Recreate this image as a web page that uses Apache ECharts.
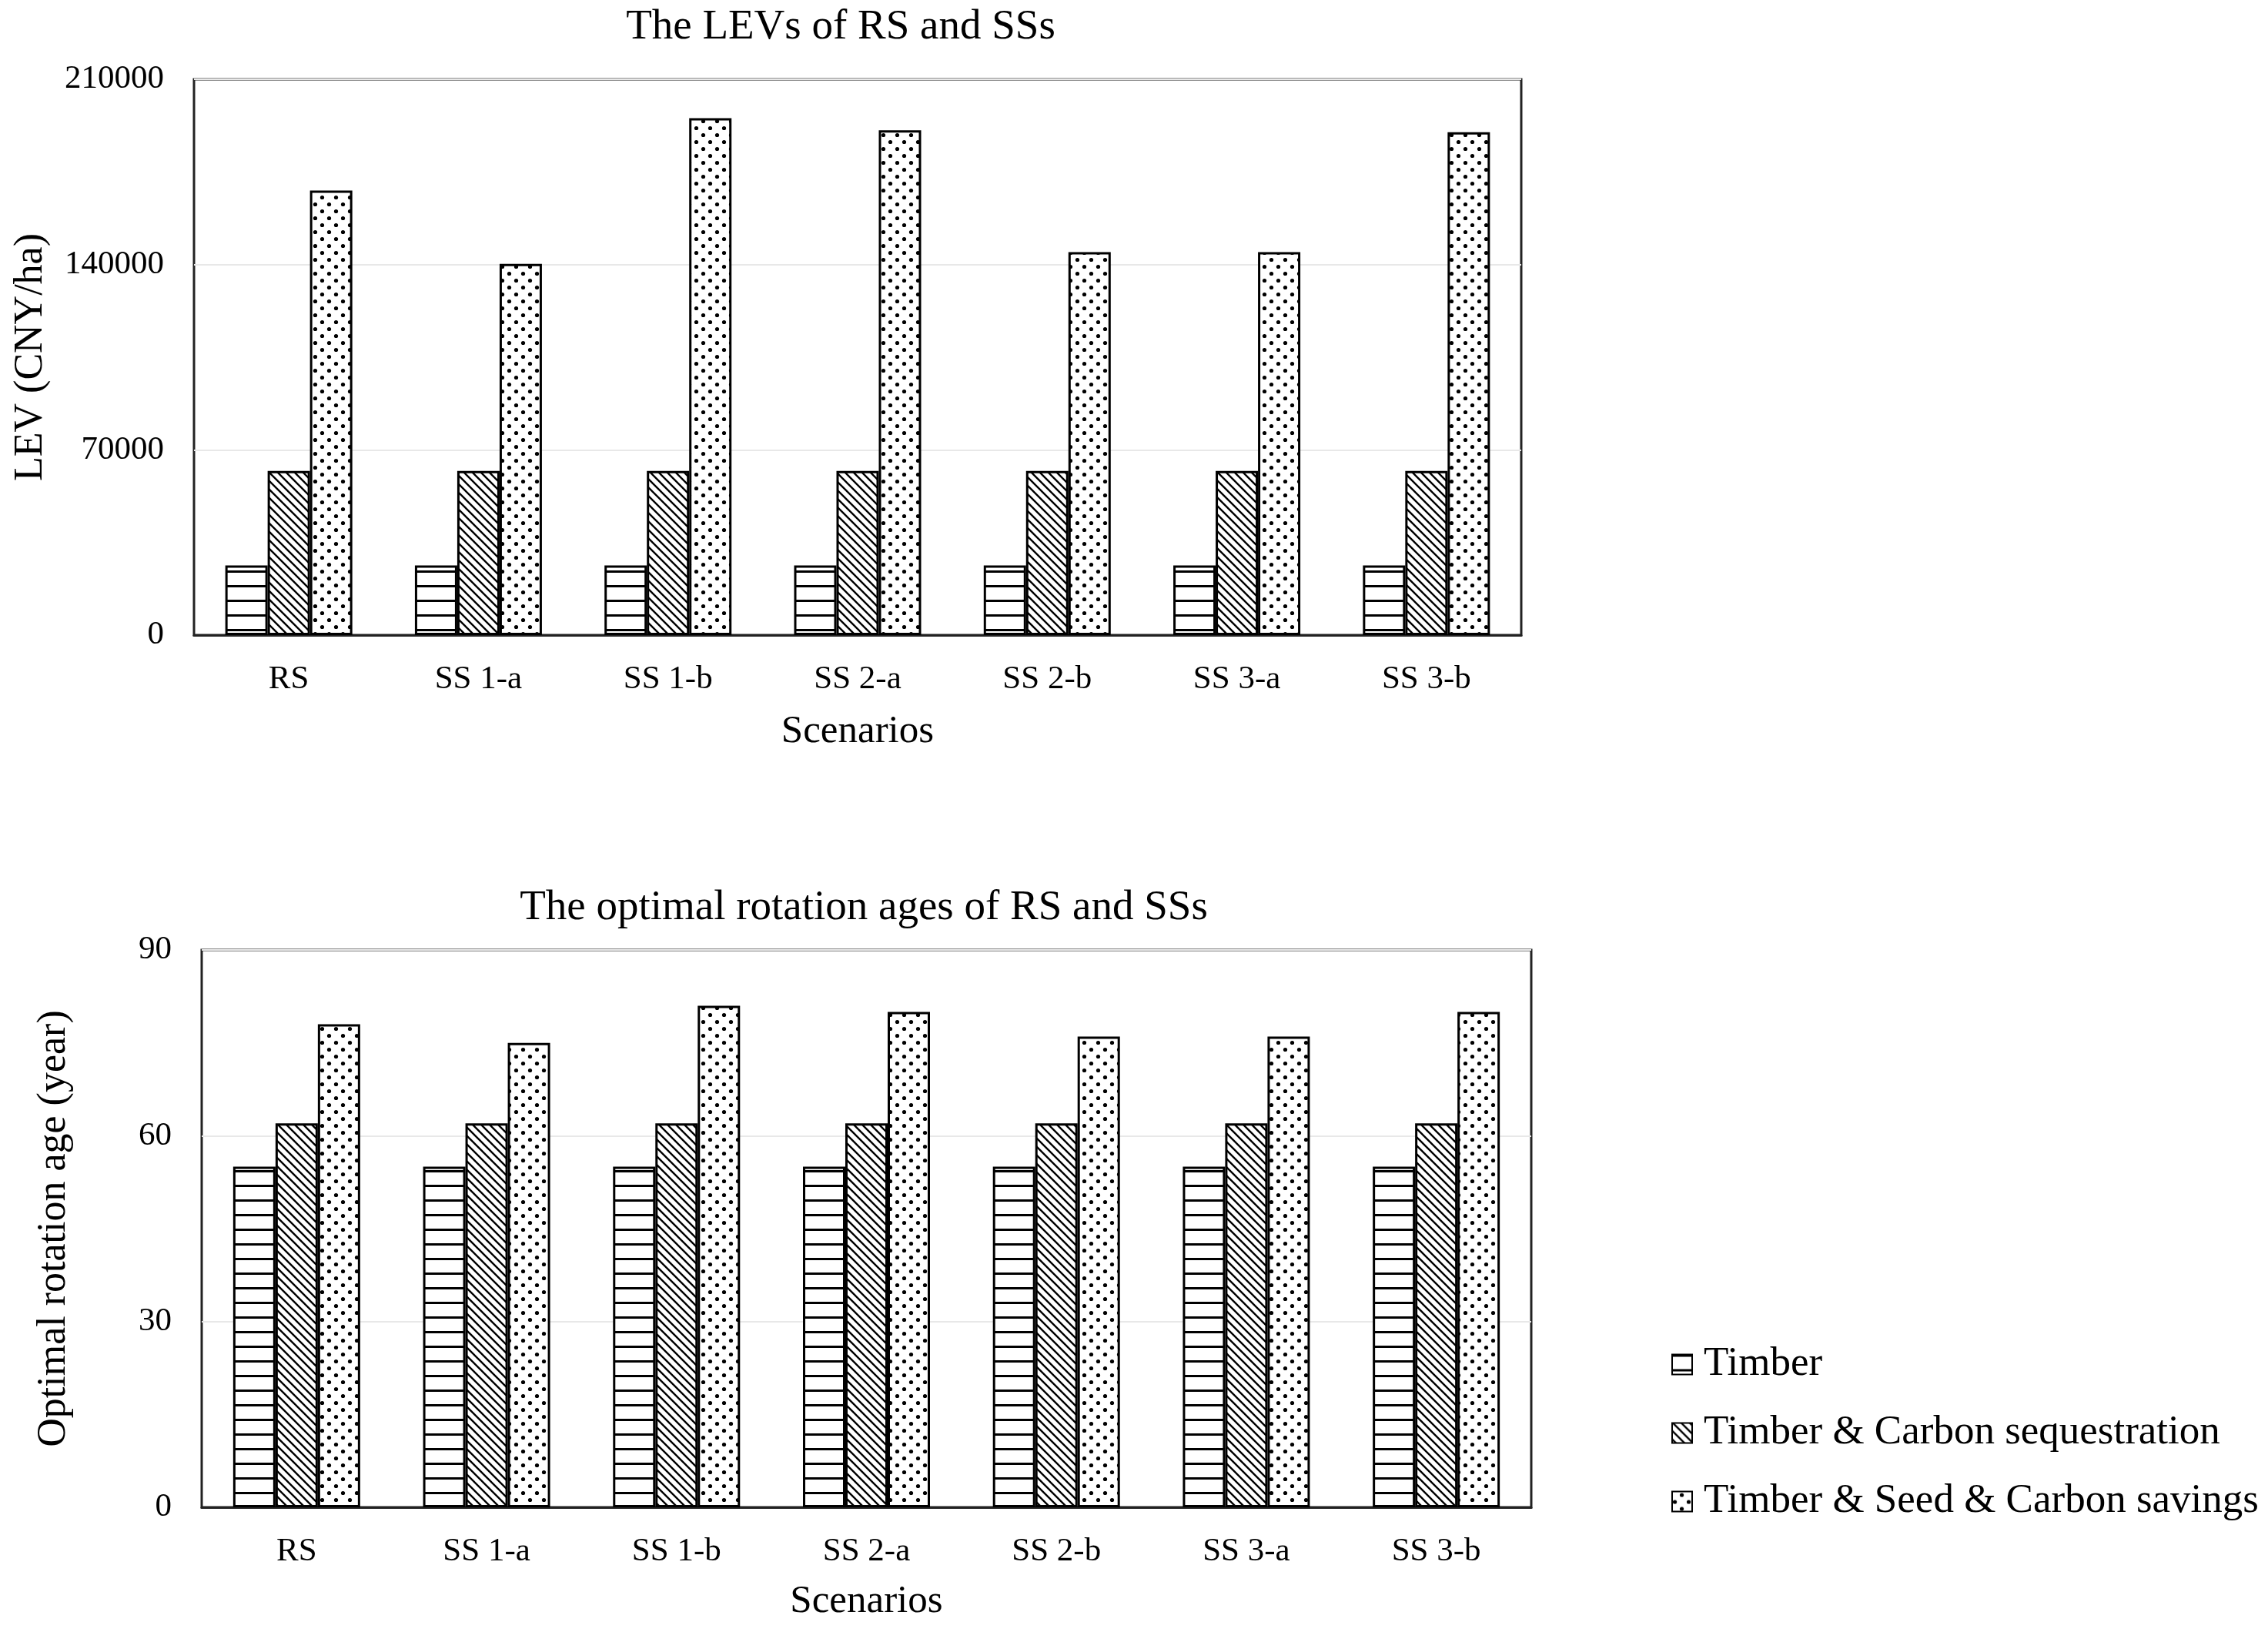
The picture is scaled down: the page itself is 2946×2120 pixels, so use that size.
<!DOCTYPE html>
<html>
<head>
<meta charset="utf-8">
<script src="https://cdn.jsdelivr.net/npm/echarts@6/dist/echarts.min.js"></script>
<style>
html,body{margin:0;padding:0;background:#fff;}
#chart{width:2946px;height:2120px;}
</style>
</head>
<body>
<div id="chart"></div>
<script>
// ---- Data ----
const categories = ['RS', 'SS 1-a', 'SS 1-b', 'SS 2-a', 'SS 2-b', 'SS 3-a', 'SS 3-b'];
const seriesNames = ['Timber', 'Timber & Carbon sequestration', 'Timber & Seed & Carbon savings'];

const levTimber = [26300, 26300, 26300, 26300, 26300, 26300, 26300];
const levCarbon = [62000, 62000, 62000, 62000, 62000, 62000, 62000];
const levSeed   = [168000, 140300, 195300, 190700, 144700, 144700, 190000];

const ageTimber = [55, 55, 55, 55, 55, 55, 55];
const ageCarbon = [62, 62, 62, 62, 62, 62, 62];
const ageSeed   = [78, 75, 81, 80, 76, 76, 80];

const levTicks = [0, 70000, 140000, 210000];
const ageTicks = [0, 30, 60, 90];

const titleTop = 'The LEVs of RS and SSs';
const titleBottom = 'The optimal rotation ages of RS and SSs';
const yNameTop = 'LEV (CNY/ha)';
const yNameBottom = 'Optimal rotation age (year)';
const xName = 'Scenarios';

// ---- Patterns ----
function makeCanvas(w, h) {
  const c = document.createElement('canvas');
  c.width = w; c.height = h;
  const ctx = c.getContext('2d');
  ctx.fillStyle = '#fff';
  ctx.fillRect(0, 0, w, h);
  return [c, ctx];
}
function hPattern() {
  const [c, ctx] = makeCanvas(20, 19);
  ctx.fillStyle = '#000';
  ctx.fillRect(0, 0, 20, 3);
  return c;
}
function dPattern() {
  const s = 11;
  const [c, ctx] = makeCanvas(s, s);
  ctx.strokeStyle = '#000';
  ctx.lineWidth = 2.4;
  ctx.beginPath();
  ctx.moveTo(-2, -2); ctx.lineTo(s + 2, s + 2);
  ctx.moveTo(-2, s - 2); ctx.lineTo(2, s + 2);
  ctx.moveTo(s - 2, -2); ctx.lineTo(s + 2, 2);
  ctx.stroke();
  return c;
}
function dotPattern() {
  const s = 18;
  const [c, ctx] = makeCanvas(s, s);
  ctx.fillStyle = '#000';
  [[4.5, 4.5], [13.5, 13.5]].forEach(p => {
    ctx.beginPath();
    ctx.arc(p[0], p[1], 2.6, 0, Math.PI * 2);
    ctx.fill();
  });
  return c;
}
const patterns = [hPattern(), dPattern(), dotPattern()];
function fill(i) { return { image: patterns[i], repeat: 'repeat' }; }

const FONT = 'Liberation Serif';

function makeSeries(names, dataArr, gridIdx) {
  return dataArr.map((d, i) => ({
    name: names[i],
    type: 'bar',
    xAxisIndex: gridIdx,
    yAxisIndex: gridIdx,
    data: d,
    barWidth: 55,
    barGap: '0%',
    itemStyle: { color: fill(i), borderColor: '#000', borderWidth: 3 },
    emphasis: { disabled: true }
  }));
}

function xAxisCfg(gridIdx, gap) {
  return {
    type: 'category', gridIndex: gridIdx, data: categories,
    axisTick: { show: false },
    axisLine: { show: true, lineStyle: { color: '#222', width: 3 } },
    axisLabel: { color: '#000', fontFamily: FONT, fontSize: 43, margin: 36 },
    name: xName, nameLocation: 'middle', nameGap: gap,
    nameTextStyle: { color: '#000', fontFamily: FONT, fontSize: 51 }
  };
}
function yAxisCfg(gridIdx, ticks, name, gap) {
  return {
    type: 'value', gridIndex: gridIdx,
    min: ticks[0], max: ticks[ticks.length - 1], interval: ticks[1] - ticks[0],
    axisLine: { show: false }, axisTick: { show: false },
    splitLine: { show: true, lineStyle: { color: '#e8e8e8', width: 2 } },
    axisLabel: { color: '#000', fontFamily: FONT, fontSize: 43, margin: 39, formatter: v => String(v) },
    name: name, nameLocation: 'middle', nameGap: gap,
    nameTextStyle: { color: '#000', fontFamily: FONT, fontSize: 52 }
  };
}

const chart = echarts.init(document.getElementById('chart'), null, { renderer: 'canvas', width: 2946, height: 2120 });
chart.setOption({
  backgroundColor: '#fff',
  animation: false,
  textStyle: { fontFamily: FONT },
  grid: [
    { left: 252, top: 103, width: 1724, height: 722, show: true, borderColor: '#222', borderWidth: 3, backgroundColor: 'transparent' },
    { left: 262, top: 1234, width: 1727, height: 724, show: true, borderColor: '#222', borderWidth: 3, backgroundColor: 'transparent' }
  ],
  xAxis: [xAxisCfg(0, 100), xAxisCfg(1, 97)],
  yAxis: [yAxisCfg(0, levTicks, yNameTop, 186), yAxisCfg(1, ageTicks, yNameBottom, 166)],
  legend: {
    orient: 'vertical', left: 2166, top: 1741,
    itemWidth: 46, itemHeight: 26, itemGap: 36,
    icon: 'path://M0,0L10,0L10,10L0,10Z',
    symbolKeepAspect: true,
    textStyle: { color: '#000', fontFamily: FONT, fontSize: 53, lineHeight: 53 },
    data: seriesNames
  },
  graphic: [
    { type: 'text', x: 1092, y: 36, style: { text: titleTop, font: '55px "Liberation Serif"', fill: '#000', textAlign: 'center', textVerticalAlign: 'middle' } },
    { type: 'text', x: 1122, y: 1180, style: { text: titleBottom, font: '55px "Liberation Serif"', fill: '#000', textAlign: 'center', textVerticalAlign: 'middle' } }
  ],
  series: [
    ...makeSeries(seriesNames, [levTimber, levCarbon, levSeed], 0),
    ...makeSeries(seriesNames, [ageTimber, ageCarbon, ageSeed], 1)
  ]
});
</script>
</body>
</html>
